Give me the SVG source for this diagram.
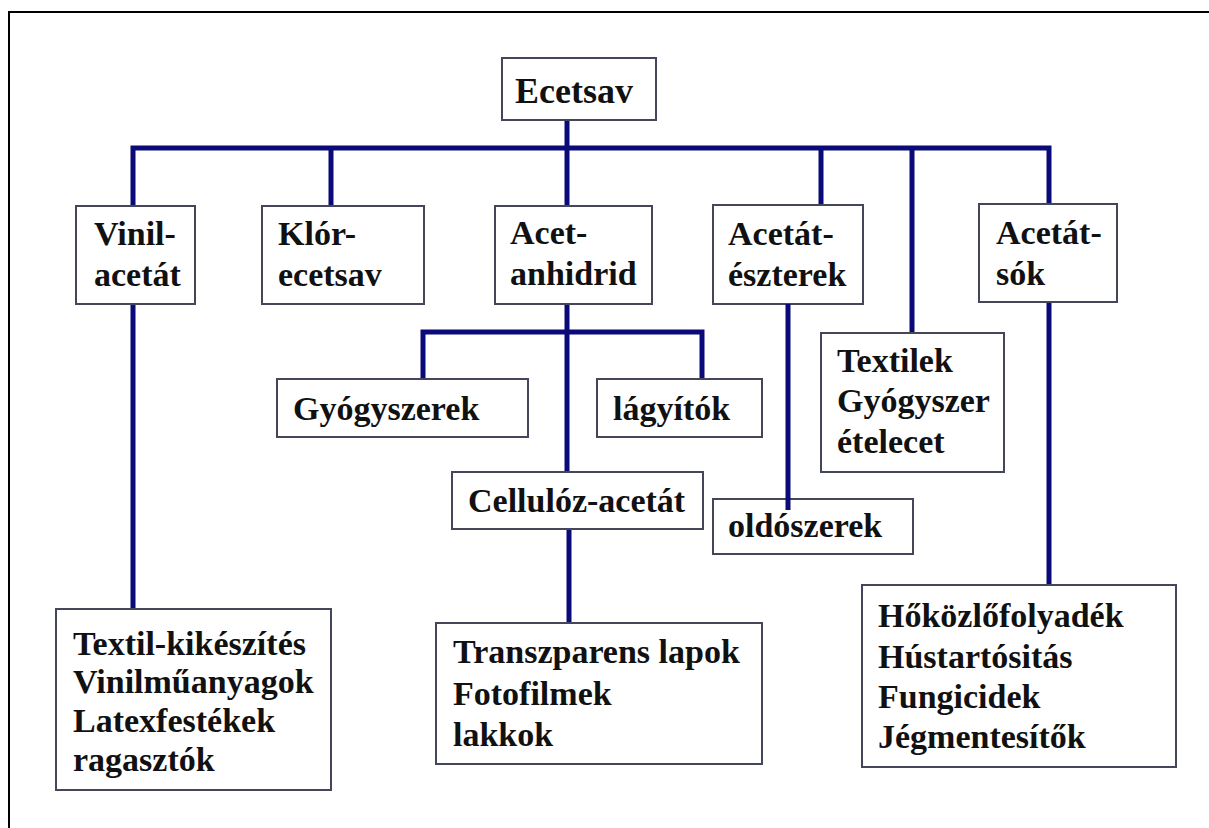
<svg xmlns="http://www.w3.org/2000/svg" width="1209" height="828" viewBox="0 0 1209 828">
<style>
.box{fill:#ffffff;stroke:#44475a;stroke-width:2}
.t{font-family:"Liberation Serif","Times New Roman",serif;font-weight:bold;font-size:34px;fill:#111111}
.c{fill:none;stroke:#0a0a78;stroke-width:5;stroke-linejoin:miter;stroke-linecap:butt}
.frame{fill:none;stroke:#000000;stroke-width:2}
</style>
<rect x="0" y="0" width="1209" height="828" fill="#ffffff"/>
<path class="frame" d="M9,828 V12 H1209"/>

<g id="connectors">
  <path class="c" d="M567,120 V148"/>
  <path class="c" d="M133,206 V148 H1049 V204"/>
  <path class="c" d="M331,148 V206"/>
  <path class="c" d="M567,148 V206"/>
  <path class="c" d="M821,148 V205"/>
  <path class="c" d="M912,148 V333"/>
  <path class="c" d="M133,304 V609"/>
  <path class="c" d="M567,304 V472"/>
  <path class="c" d="M423,379 V332 H702 V379"/>
  <path class="c" d="M569,529 V623"/>
  <path class="c" d="M1049,302 V585"/>
</g>

<g id="ecetsav">
  <rect class="box" x="502" y="58" width="154" height="62"/>
  <text class="t" x="515" y="103" style="font-size:36px">Ecetsav</text>
</g>
<g id="vinil-acetat">
  <rect class="box" x="76" y="206" width="119" height="98"/>
  <text class="t" x="94" y="245">Vinil-</text>
  <text class="t" x="94" y="286">acetát</text>
</g>
<g id="klor-ecetsav">
  <rect class="box" x="262" y="206" width="162" height="98"/>
  <text class="t" x="278" y="245">Klór-</text>
  <text class="t" x="278" y="286">ecetsav</text>
</g>
<g id="acet-anhidrid">
  <rect class="box" x="495" y="206" width="157" height="98"/>
  <text class="t" x="510" y="244">Acet-</text>
  <text class="t" x="510" y="285">anhidrid</text>
</g>
<g id="acetat-eszterek">
  <rect class="box" x="713" y="205" width="150" height="99"/>
  <text class="t" x="728" y="245">Acetát-</text>
  <text class="t" x="728" y="286">észterek</text>
</g>
<g id="acetat-sok">
  <rect class="box" x="979" y="204" width="138" height="98"/>
  <text class="t" x="996" y="244">Acetát-</text>
  <text class="t" x="996" y="285">sók</text>
</g>
<g id="gyogyszerek">
  <rect class="box" x="277" y="379" width="251" height="58"/>
  <text class="t" x="293" y="420">Gyógyszerek</text>
</g>
<g id="lagyitok">
  <rect class="box" x="597" y="379" width="165" height="58"/>
  <text class="t" x="613" y="420">lágyítók</text>
</g>
<g id="textilek">
  <rect class="box" x="821" y="333" width="183" height="139"/>
  <text class="t" x="837" y="372">Textilek</text>
  <text class="t" x="837" y="412">Gyógyszer</text>
  <text class="t" x="837" y="453">ételecet</text>
</g>
<g id="cellulóz-acetat">
  <rect class="box" x="452" y="472" width="251" height="57"/>
  <text class="t" x="468" y="512">Cellulóz-acetát</text>
</g>
<g id="oldoszerek">
  <rect class="box" x="713" y="499" width="200" height="55"/>
  <text class="t" x="728" y="537">oldószerek</text>
</g>
<g id="connector-oldoszerek">
  <path class="c" d="M788,304 V510"/>
</g>
<g id="vinil-felhasznalas">
  <rect class="box" x="56" y="609" width="275" height="181"/>
  <text class="t" x="73" y="655">Textil-kikészítés</text>
  <text class="t" x="73" y="693">Vinilműanyagok</text>
  <text class="t" x="73" y="732">Latexfestékek</text>
  <text class="t" x="73" y="771">ragasztók</text>
</g>
<g id="cellulóz-felhasznalas">
  <rect class="box" x="436" y="623" width="326" height="141"/>
  <text class="t" x="453" y="663">Transzparens lapok</text>
  <text class="t" x="453" y="705">Fotofilmek</text>
  <text class="t" x="453" y="746">lakkok</text>
</g>
<g id="sok-felhasznalas">
  <rect class="box" x="862" y="585" width="314" height="182"/>
  <text class="t" x="878" y="627">Hőközlőfolyadék</text>
  <text class="t" x="878" y="668">Hústartósitás</text>
  <text class="t" x="878" y="708">Fungicidek</text>
  <text class="t" x="878" y="748">Jégmentesítők</text>
</g>
</svg>
